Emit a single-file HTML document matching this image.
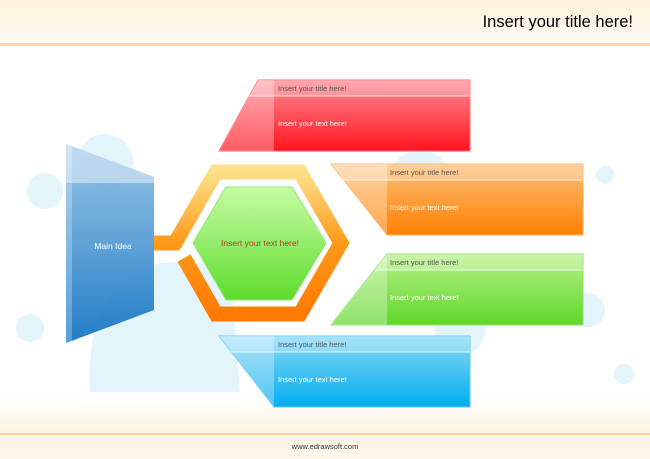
<!DOCTYPE html>
<html><head><meta charset="utf-8"><style>
html,body{margin:0;padding:0;background:#fff}
svg{display:block}
text{font-family:"Liberation Sans",sans-serif}
</style></head><body>
<svg width="650" height="459" viewBox="0 0 650 459" xmlns="http://www.w3.org/2000/svg">
<defs>
<linearGradient id="hdr" x1="0" y1="0" x2="0" y2="1"><stop offset="0" stop-color="#fff1dc"/><stop offset="1" stop-color="#fffaf3"/></linearGradient>
<linearGradient id="ftr" x1="0" y1="0" x2="0" y2="1"><stop offset="0" stop-color="#ffffff"/><stop offset="1" stop-color="#fff3e2"/></linearGradient>
<linearGradient id="red" x1="0" y1="0" x2="0" y2="1"><stop offset="0" stop-color="#ff8a92"/><stop offset="1" stop-color="#ff1520"/></linearGradient>
<linearGradient id="org" x1="0" y1="0" x2="0" y2="1"><stop offset="0" stop-color="#ffc07a"/><stop offset="1" stop-color="#ff8000"/></linearGradient>
<linearGradient id="grn" x1="0" y1="0" x2="0" y2="1"><stop offset="0" stop-color="#b8f08a"/><stop offset="1" stop-color="#5fd82a"/></linearGradient>
<linearGradient id="blu" x1="0" y1="0" x2="0" y2="1"><stop offset="0" stop-color="#8ad8f6"/><stop offset="1" stop-color="#00aeef"/></linearGradient>
<linearGradient id="main" x1="0" y1="0" x2="0" y2="1"><stop offset="0" stop-color="#8fc0e4"/><stop offset="1" stop-color="#0a6fc0"/></linearGradient>
<linearGradient id="ring" x1="0" y1="0" x2="0" y2="1"><stop offset="0" stop-color="#ffe08a"/><stop offset="0.5" stop-color="#ff9a1a"/><stop offset="1" stop-color="#ff7a00"/></linearGradient>
<linearGradient id="hex" x1="0" y1="0" x2="0" y2="1"><stop offset="0" stop-color="#c6fca4"/><stop offset="1" stop-color="#5edc2c"/></linearGradient>
<clipPath id="cr"><polygon points="258,80 470,80 470,151 219,151"/></clipPath>
<clipPath id="co"><polygon points="331,164 583,164 583,235 387,235"/></clipPath>
<clipPath id="cg"><polygon points="387,254 583,254 583,325 331,325"/></clipPath>
<clipPath id="cb"><polygon points="219,336 470,336 470,407 274,407"/></clipPath>
</defs>
<rect width="650" height="44" fill="url(#hdr)"/>
<rect y="43" width="650" height="3" fill="#ffd699"/>
<rect y="395" width="650" height="39" fill="url(#ftr)"/>
<rect y="433" width="650" height="2" fill="#ffd699"/>
<rect y="435" width="650" height="24" fill="#fff6ea"/>
<text x="633" y="27" text-anchor="end" font-size="16.5" fill="#000">Insert your title here!</text>
<text x="325" y="449" text-anchor="middle" font-size="7.5" fill="#333">www.edrawsoft.com</text>
<g fill="#e3f4fb">
<circle cx="105" cy="162" r="28"/><circle cx="45" cy="191" r="18"/><circle cx="30" cy="328" r="14"/>
<circle cx="605" cy="175" r="9"/><circle cx="624" cy="374" r="10"/><circle cx="588" cy="310" r="17"/>
<path d="M90 392 Q85 300 140 268 Q180 255 230 270 L240 392 Z"/>
<circle cx="420" cy="180" r="30"/><circle cx="460" cy="330" r="25"/>
</g>
<polygon points="66,144 154,177 154,310 66,343" fill="url(#main)" opacity="0.9"/>
<polygon points="66,144 154,177 154,183 66,183" fill="#cfe3f2" opacity="0.7"/>
<rect x="66" y="144" width="6" height="199" fill="#fff" opacity="0.25"/>
<text x="113" y="249" text-anchor="middle" font-size="8.5" fill="#fff">Main Idea</text>
<path d="M154 243 L175 243 L216 172 L300 172 L341 243 L300 314 L216 314 L184 258" fill="none" stroke="url(#ring)" stroke-width="15" stroke-linejoin="miter"/>
<polygon points="226,187 292,187 326,243 292,300 226,300 193,243" fill="url(#hex)" stroke="#8fe870" stroke-width="1"/>
<text x="260" y="246" text-anchor="middle" font-size="8.5" fill="#c0392b">Insert your text here!</text>
<polygon points="258,80 470,80 470,151 219,151" fill="url(#red)" stroke="#ff6a72"/>
<g clip-path="url(#cr)"><rect x="200" y="80" width="74" height="71" fill="#fff" opacity="0.3"/><rect x="200" y="80" width="270" height="16" fill="#fff" opacity="0.25"/></g>
<line x1="248" y1="96" x2="470" y2="96" stroke="#fff" opacity="0.8"/>
<text x="278" y="91" font-size="7.5" fill="#555">Insert your title here!</text>
<text x="278" y="126" font-size="7.5" fill="#fff">Insert your text here!</text>
<polygon points="331,164 583,164 583,235 387,235" fill="url(#org)" stroke="#ffb060"/>
<g clip-path="url(#co)"><rect x="320" y="164" width="67" height="71" fill="#fff" opacity="0.3"/><rect x="320" y="164" width="263" height="16" fill="#fff" opacity="0.25"/></g>
<line x1="343" y1="180" x2="583" y2="180" stroke="#fff" opacity="0.8"/>
<text x="390" y="175" font-size="7.5" fill="#555">Insert your title here!</text>
<text x="390" y="210" font-size="7.5" fill="#fff">Insert your text here!</text>
<polygon points="387,254 583,254 583,325 331,325" fill="url(#grn)" stroke="#8fe070"/>
<g clip-path="url(#cg)"><rect x="320" y="254" width="67" height="71" fill="#fff" opacity="0.3"/><rect x="320" y="254" width="263" height="16" fill="#fff" opacity="0.25"/></g>
<line x1="375" y1="270" x2="583" y2="270" stroke="#fff" opacity="0.8"/>
<text x="390" y="265" font-size="7.5" fill="#555">Insert your title here!</text>
<text x="390" y="300" font-size="7.5" fill="#fff">Insert your text here!</text>
<polygon points="219,336 470,336 470,407 274,407" fill="url(#blu)" stroke="#60c8f0"/>
<g clip-path="url(#cb)"><rect x="210" y="336" width="64" height="71" fill="#fff" opacity="0.3"/><rect x="210" y="336" width="260" height="16" fill="#fff" opacity="0.25"/></g>
<line x1="231" y1="352" x2="470" y2="352" stroke="#fff" opacity="0.8"/>
<text x="278" y="347" font-size="7.5" fill="#555">Insert your title here!</text>
<text x="278" y="382" font-size="7.5" fill="#fff">Insert your text here!</text>
</svg>
</body></html>
